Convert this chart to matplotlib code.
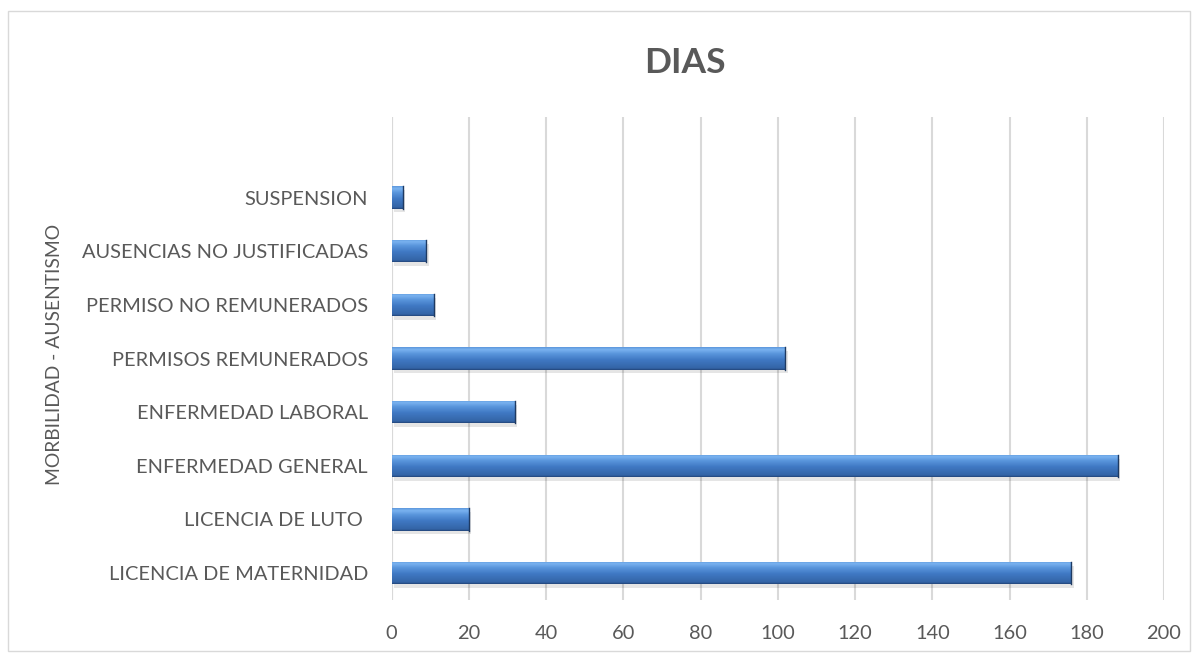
import matplotlib
matplotlib.use("Agg")
import matplotlib.pyplot as plt
import numpy as np
from matplotlib.colors import LinearSegmentedColormap
from matplotlib.patches import Rectangle

categories = ["LICENCIA DE MATERNIDAD", "LICENCIA DE LUTO ", "ENFERMEDAD GENERAL",
              "ENFERMEDAD LABORAL", "PERMISOS REMUNERADOS", "PERMISO NO REMUNERADOS",
              "AUSENCIAS NO JUSTIFICADAS", "SUSPENSION"]
values = [176, 20, 188, 32, 102, 11, 9, 3]
xticks = [0, 20, 40, 60, 80, 100, 120, 140, 160, 180, 200]

plt.rcParams['font.family'] = ['Lato', 'DejaVu Sans']
W, H = 1199, 656
fig = plt.figure(figsize=(W / 100, H / 100), dpi=100)
ax = fig.add_axes([391.5 / W, 1 - 600 / H, (1164 - 391.5) / W, (600 - 117) / H])

y = np.arange(len(categories))
bars = ax.barh(y, values, height=0.41, color="#4479c4", edgecolor="none", zorder=3)

cmap = LinearSegmentedColormap.from_list(
    "bev", [(0.0, "#23467a"), (0.07, "#3364a6"), (0.45, "#4079c4"),
            (0.72, "#5a96dc"), (0.9, "#7ab3f0"), (1.0, "#5d97dc")])
grad = np.linspace(0, 1, 64).reshape(-1, 1)
for b in bars:
    x0, y0 = b.get_x(), b.get_y()
    w, h = b.get_width(), b.get_height()
    ax.add_patch(Rectangle((x0 + 0.6, y0 - 0.07), w, h, facecolor="#000000",
                           alpha=0.10, edgecolor="none", zorder=2))
    im = ax.imshow(grad, extent=(x0, x0 + w, y0, y0 + h), origin="lower",
                   cmap=cmap, aspect="auto", zorder=4, interpolation="bilinear")
    im.set_clip_path(b)
    ax.plot([x0 + w, x0 + w], [y0, y0 + h], color="#1e3a62", linewidth=1.0, zorder=5)

ax.set_xlim(0, 200)
ax.set_ylim(-0.5, 8.5)
ax.set_xticks(xticks)
ax.set_xticklabels([str(t) for t in xticks])
ax.set_yticks(y)
ax.set_yticklabels(categories)
ax.tick_params(axis="both", length=0, colors="#595959", labelsize=14.4)
ax.tick_params(axis="x", pad=18)
ax.tick_params(axis="y", pad=17)
ax.grid(axis="x", color="#d9d9d9", linewidth=1.5, zorder=0)
ax.set_axisbelow(True)
for s in ax.spines.values():
    s.set_visible(False)
ax.axvline(0, color="#d9d9d9", linewidth=1.5, zorder=1)

fig.text(685 / W, 1 - 63 / H, "DIAS", ha="center", va="center",
         fontsize=25.5, fontweight="bold", color="#595959")
fig.text(55 / W, 1 - 354 / H, "MORBILIDAD - AUSENTISMO", ha="center", va="center",
         rotation=90, fontsize=13.9, color="#595959")

fig.patches.append(Rectangle((8 / W, 1 - 651 / H), (1190 - 8) / W, (651 - 11) / H,
                             transform=fig.transFigure, facecolor="none",
                             edgecolor="#d9d9d9", linewidth=1))

fig.savefig("out.png", dpi=100, facecolor="white")
